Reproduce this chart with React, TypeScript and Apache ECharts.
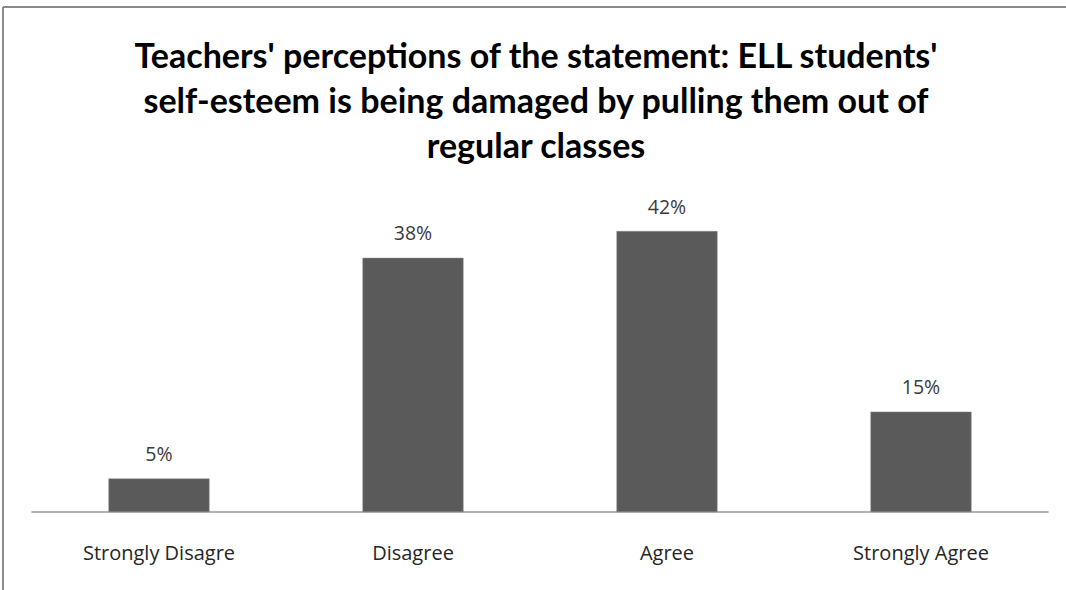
import React, { useEffect, useRef } from "react";
import * as echarts from "echarts";

const categories = ["Strongly Disagre", "Disagree", "Agree", "Strongly Agree"];
const values = [5, 38, 42, 15];
const titleText =
  "Teachers' perceptions of the statement: ELL students'\nself-esteem is being damaged by pulling them out of\nregular classes";

export default function App() {
  const ref = useRef<HTMLDivElement>(null);
  useEffect(() => {
    const chart = echarts.init(ref.current!, null, { renderer: "svg" });
    chart.setOption({
      animation: false,
      backgroundColor: "#ffffff",
      graphic: [
        { type: "line", shape: { x1: 3, y1: 7, x2: 1066, y2: 7 }, style: { stroke: "#8a8a8a", lineWidth: 2 } },
        { type: "line", shape: { x1: 3, y1: 7, x2: 3, y2: 590 }, style: { stroke: "#8a8a8a", lineWidth: 2 } },
        {
          type: "text",
          x: 536,
          y: 32,
          style: {
            text: titleText,
            align: "center",
            verticalAlign: "top",
            font: "bold 34px Lato",
            lineHeight: 45,
            fill: "#000000",
          },
        },
      ],
      grid: { left: 32, right: 18, top: 211, bottom: 78 },
      xAxis: {
        type: "category",
        data: categories,
        axisLine: { lineStyle: { color: "#9a9a9a", width: 1.5 } },
        axisTick: { show: false },
        axisLabel: {
          fontFamily: "Open Sans",
          fontSize: 20,
          color: "#262626",
          margin: 30,
        },
      },
      yAxis: {
        type: "value",
        min: 0,
        max: 45,
        show: false,
        splitLine: { show: false },
      },
      series: [
        {
          type: "bar",
          data: values,
          barWidth: 101,
          itemStyle: { color: "#5a5a5a", borderColor: "#8a8a8a", borderWidth: 0.5 },
          label: {
            show: true,
            position: "top",
            distance: 15,
            formatter: "{c}%",
            fontFamily: "Open Sans",
            fontSize: 19.5,
            color: "#3a3a3a",
          },
        },
      ],
    });
    return () => chart.dispose();
  }, []);
  return (
    <div
      ref={ref}
      style={{ position: "absolute", left: 0, top: 0, width: 1066, height: 590 }}
    />
  );
}
